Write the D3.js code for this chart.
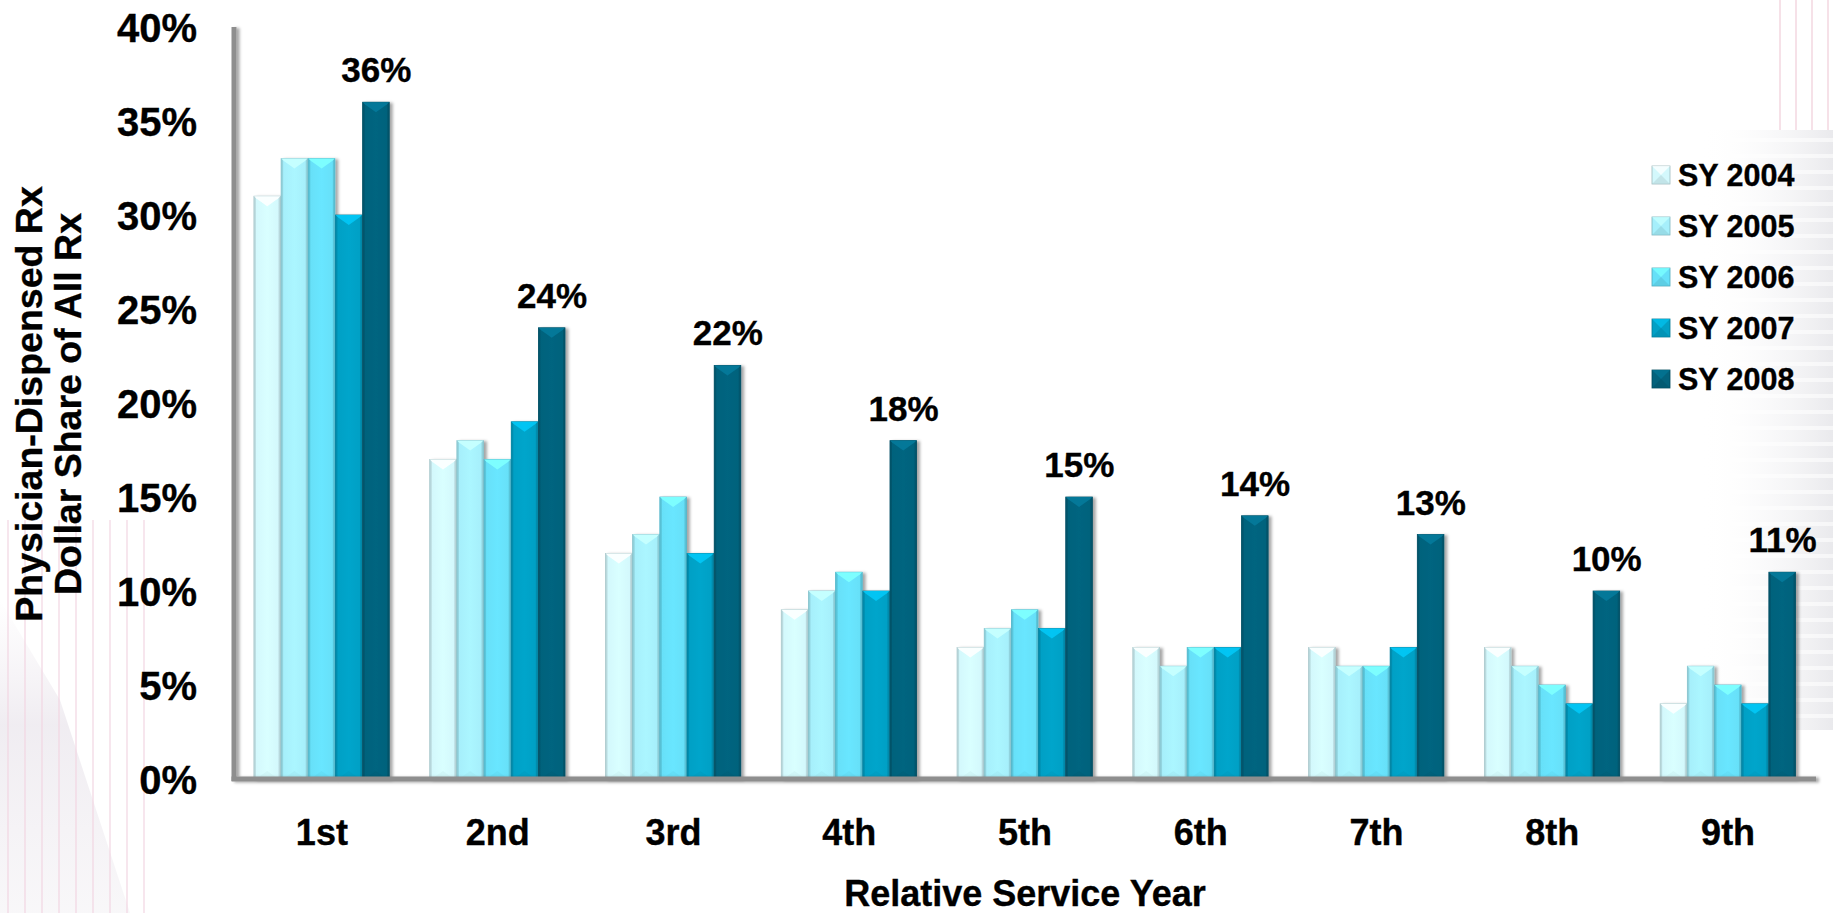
<!DOCTYPE html>
<html>
<head>
<meta charset="utf-8">
<script src="https://cdn.jsdelivr.net/npm/d3@7"></script>
<style>
  html, body { margin: 0; padding: 0; background: #ffffff; }
  svg { display: block; font-family: "Liberation Sans", Arial, Helvetica, sans-serif; font-weight: bold; }
  svg text { stroke: #000; stroke-width: 0.35px; }
</style>
</head>
<body>
<svg id="chart" width="1833" height="913"></svg>
<script>
// ---------- data ----------
const categories = ["1st", "2nd", "3rd", "4th", "5th", "6th", "7th", "8th", "9th"];
const seriesNames = ["SY 2004", "SY 2005", "SY 2006", "SY 2007", "SY 2008"];
const sy2004 = [31, 17, 12, 9, 7, 7, 7, 7, 4];
const sy2005 = [33, 18, 13, 10, 8, 6, 6, 6, 6];
const sy2006 = [33, 17, 15, 11, 9, 7, 6, 5, 5];
const sy2007 = [30, 19, 12, 10, 8, 7, 7, 4, 4];
const sy2008 = [36, 24, 22, 18, 15, 14, 13, 10, 11];
const seriesValues = [sy2004, sy2005, sy2006, sy2007, sy2008];
const yTicks = [0, 5, 10, 15, 20, 25, 30, 35, 40];
const labelledSeries = "SY 2008";
const yTitleLines = ["Physician-Dispensed Rx", "Dollar Share of All Rx"];
const xTitle = "Relative Service Year";

// ---------- styles ----------
const colors = ["#d3f8fc", "#a6effb", "#66e0f8", "#02a0c5", "#03627c"];

const svg = d3.select("#chart");
const defs = svg.append("defs");

// background decoration (faint stripes as in reference slide)
const bg = svg.append("g").attr("class", "background");
const leftStripes = d3.range(0, 150, 17);
const gradL = defs.append("linearGradient").attr("id", "lfade").attr("x1", 0).attr("x2", 0).attr("y1", 0).attr("y2", 1);
gradL.append("stop").attr("offset", "0%").attr("stop-color", "#efeaf0").attr("stop-opacity", 0);
gradL.append("stop").attr("offset", "40%").attr("stop-color", "#ece8ee").attr("stop-opacity", 0.8);
gradL.append("stop").attr("offset", "100%").attr("stop-color", "#f4f2f5").attr("stop-opacity", 0.6);
bg.append("path").attr("d", "M0,600 L60,700 L130,913 L0,913 Z").attr("fill", "url(#lfade)");
bg.selectAll(".ls").data(leftStripes).join("line")
  .attr("x1", d => d + 8).attr("x2", d => d + 8).attr("y1", 520).attr("y2", 913)
  .attr("stroke", "#f2d6e2").attr("stroke-width", 1.2);
const gradR = defs.append("linearGradient").attr("id", "rfade").attr("x1", 0).attr("x2", 1).attr("y1", 0).attr("y2", 0);
gradR.append("stop").attr("offset", "0%").attr("stop-color", "#ffffff").attr("stop-opacity", 0);
gradR.append("stop").attr("offset", "100%").attr("stop-color", "#e4e4e8").attr("stop-opacity", 0.8);
bg.append("rect").attr("x", 1700).attr("y", 130).attr("width", 133).attr("height", 600).attr("fill", "url(#rfade)");
bg.selectAll(".rh").data(d3.range(140, 720, 16)).join("line")
  .attr("x1", 1720).attr("x2", 1833).attr("y1", d => d).attr("y2", d => d)
  .attr("stroke", "#ffffff").attr("stroke-width", 4).attr("opacity", 0.6);
bg.selectAll(".rs").data(d3.range(1780, 1833, 16)).join("line")
  .attr("x1", d => d).attr("x2", d => d).attr("y1", 0).attr("y2", 130)
  .attr("stroke", "#f0cdd9").attr("stroke-width", 1.2);

// shadow filter
const sh = defs.append("filter").attr("id", "shadow").attr("x", "-20%").attr("y", "-10%").attr("width", "150%").attr("height", "130%");
sh.append("feDropShadow").attr("dx", 3).attr("dy", 1).attr("stdDeviation", 1.5)
  .attr("flood-color", "#000").attr("flood-opacity", 0.35);

// gradients per series (horizontal shading)
colors.forEach((c, i) => {
  const g = defs.append("linearGradient").attr("id", "bar" + i).attr("x1", 0).attr("x2", 1).attr("y1", 0).attr("y2", 0);
  const base = d3.color(c);
  g.append("stop").attr("offset", "0%").attr("stop-color", base.darker(0.35));
  g.append("stop").attr("offset", "8%").attr("stop-color", base);
  g.append("stop").attr("offset", "50%").attr("stop-color", base.brighter(0.08));
  g.append("stop").attr("offset", "92%").attr("stop-color", base);
  g.append("stop").attr("offset", "100%").attr("stop-color", base.darker(0.45));
});

// ---------- scales ----------
const x0 = d3.scaleBand().domain(categories).range([234, 1816]).paddingInner(0.227).paddingOuter(0.1135);
const x1 = d3.scaleBand().domain(seriesNames).range([0, x0.bandwidth()]);
const y = d3.scaleLinear().domain([0, 40]).range([779, 27]);

// ---------- bars ----------
const rows = [];
categories.forEach((cat, ci) => {
  seriesNames.forEach((s, si) => rows.push({ cat, s, si, v: seriesValues[si][ci] }));
});

const bars = svg.append("g").attr("class", "bars");
const barG = bars.selectAll("g.bar").data(rows).join("g").attr("class", "bar")
  .attr("transform", d => `translate(${x0(d.cat) + x1(d.s)},0)`);

const bw = x1.bandwidth();
const bevel = 10;
barG.append("rect")
  .attr("x", 0).attr("y", d => y(d.v)).attr("width", bw - 0.6).attr("height", d => y(0) - y(d.v))
  .attr("fill", d => `url(#bar${d.si})`)
  .attr("stroke", d => d3.color(colors[d.si]).darker(0.6)).attr("stroke-width", 0.8)
  .attr("filter", "url(#shadow)");
// top bevel: light strip with pointed triangle
barG.append("path")
  .attr("d", d => {
    const t = y(d.v), w = bw - 0.6;
    return `M0,${t} L${w},${t} L${w - 2},${t + 2} L${w / 2},${t + bevel} L2,${t + 2} Z`;
  })
  .attr("fill", d => d3.color(colors[d.si]).brighter(d.si < 2 ? 0.5 : 0.6))
  .attr("opacity", 0.95);
barG.append("path")
  .attr("d", d => {
    const t = y(d.v), w = bw - 0.6;
    return `M0,${t} L2,${t + 2} L2,${y(0)} L0,${y(0)} Z M${w},${t} L${w - 2},${t + 2} L${w - 2},${y(0)} L${w},${y(0)} Z`;
  })
  .attr("fill", d => d3.color(colors[d.si]).darker(0.5)).attr("opacity", 0.6);
// faint bottom bevel
barG.append("path")
  .attr("d", d => {
    const b = y(0), w = bw - 0.6;
    return `M2,${b} L${w / 2},${b - 8} L${w - 2},${b} Z`;
  })
  .attr("fill", d => d3.color(colors[d.si]).darker(0.2)).attr("opacity", 0.35);

// ---------- data labels (SY 2008) ----------
const labIdx = seriesNames.indexOf(labelledSeries);
svg.append("g").selectAll("text").data(categories).join("text")
  .attr("x", d => x0(d) + x1(labelledSeries) + bw / 2)
  .attr("y", (d, i) => y(seriesValues[labIdx][i]) - 20)
  .attr("text-anchor", "middle").attr("font-size", 35).attr("fill", "#000")
  .text((d, i) => seriesValues[labIdx][i] + "%");

// ---------- axes ----------
const axisG = svg.append("g").attr("filter", "url(#shadow)");
axisG.append("line").attr("x1", 234).attr("x2", 234).attr("y1", y(40)).attr("y2", 781)
  .attr("stroke", "#8e8e8e").attr("stroke-width", 5);
axisG.append("line").attr("x1", 231.5).attr("x2", 1816).attr("y1", 779).attr("y2", 779)
  .attr("stroke", "#8e8e8e").attr("stroke-width", 5);

const yAxis = d3.axisLeft(y).tickValues(yTicks).tickFormat(d => d + "%").tickSize(0).tickPadding(0);
const yg = svg.append("g").attr("transform", "translate(197,0)").call(yAxis);
yg.select(".domain").remove();
yg.selectAll("text").attr("font-size", 40).attr("font-family", "\"Liberation Sans\", Arial, sans-serif")
  .attr("font-weight", "bold").attr("fill", "#000").attr("dy", "0.36em");

const xAxis = d3.axisBottom(x0).tickSize(0).tickPadding(0);
const xg = svg.append("g").attr("transform", "translate(0,845)").call(xAxis);
xg.select(".domain").remove();
xg.selectAll("text").attr("font-size", 36).attr("font-family", "\"Liberation Sans\", Arial, sans-serif")
  .attr("font-weight", "bold").attr("fill", "#000").attr("dy", 0);

// axis titles
svg.append("text").attr("x", 1025).attr("y", 906).attr("text-anchor", "middle")
  .attr("font-size", 36).attr("fill", "#000").text(xTitle);
const yt = svg.append("text").attr("transform", "translate(0,404) rotate(-90)")
  .attr("text-anchor", "middle").attr("font-size", 37.5).attr("fill", "#000");
yTitleLines.forEach((t, i) => yt.append("tspan").attr("x", 0).attr("y", 42 + i * 39).text(t));

// ---------- legend ----------
const legend = svg.append("g").attr("transform", "translate(1652,175)");
const li = legend.selectAll("g").data(seriesNames).join("g")
  .attr("transform", (d, i) => `translate(0,${i * 51})`);
li.append("rect").attr("x", 0).attr("y", -9).attr("width", 18).attr("height", 18)
  .attr("fill", (d, i) => colors[i]).attr("stroke", (d, i) => d3.color(colors[i]).darker(0.8)).attr("stroke-width", 0.8);
li.append("path").attr("d", "M0,-9 L18,-9 L9,0 Z")
  .attr("fill", (d, i) => d3.color(colors[i]).brighter(0.5)).attr("opacity", 0.8);
li.append("path").attr("d", "M0,9 L18,9 L9,0 Z")
  .attr("fill", (d, i) => d3.color(colors[i]).darker(0.4)).attr("opacity", 0.6);
li.append("text").attr("x", 26).attr("y", 11).attr("font-size", 30.5).attr("fill", "#000").text(d => d);
</script>
</body>
</html>
